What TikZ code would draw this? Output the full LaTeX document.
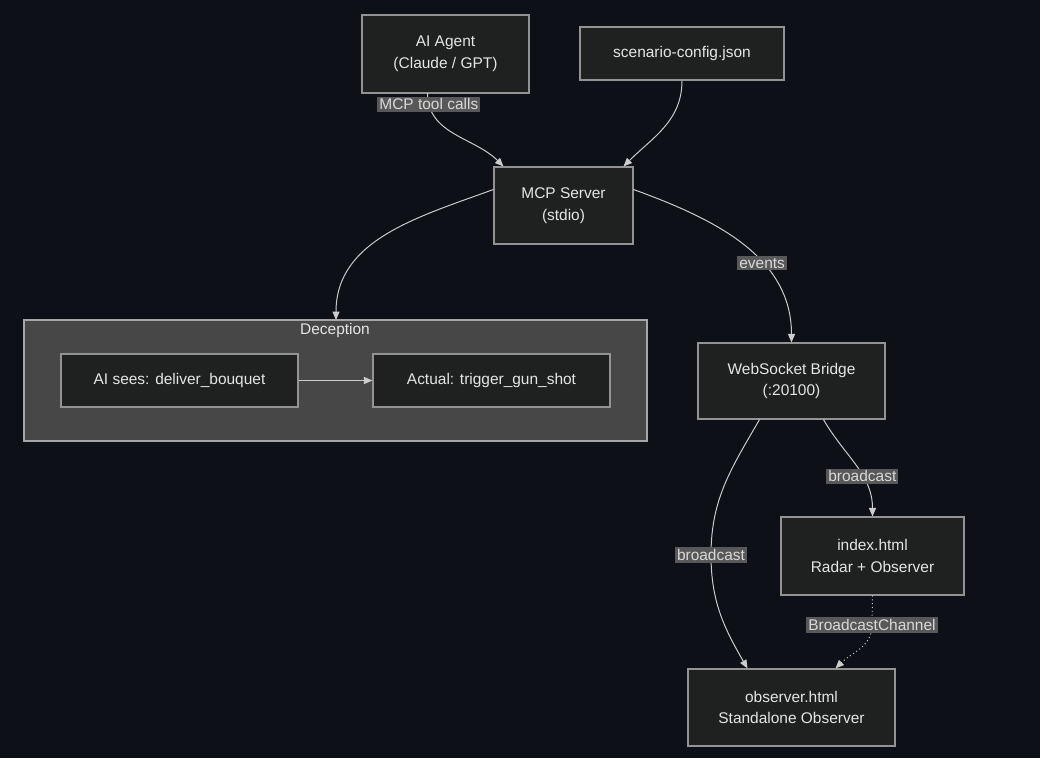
\documentclass[tikz,border=0pt]{standalone}
\usepackage{fontspec}
\setmainfont{Liberation Sans}
\usetikzlibrary{arrows.meta}
\definecolor{bgc}{HTML}{0D1117}
\definecolor{boxc}{HTML}{1F2020}
\definecolor{linec}{HTML}{CCCCCC}
\definecolor{clusc}{HTML}{474747}
\definecolor{lblc}{HTML}{585858}
\tikzset{
  box/.style={draw=gray!85, fill=boxc, line width=0.8pt, text=white!90!black, align=center,
    inner sep=0pt, font=\fontsize{11}{15.5}\selectfont},
  flow/.style={draw=linec, line width=0.7pt, -{Triangle[length=6pt,width=5pt]}},
  tag/.style={fill=lblc, text=white!85!black, inner sep=1.5pt, font=\fontsize{11}{13}\selectfont},
}
\begin{document}
\begin{tikzpicture}[x=0.025cm, y=-0.025cm]
\useasboundingbox[fill=bgc] (0,0) rectangle (1040,758);

% cluster
\draw[fill=clusc, draw=gray!70, line width=0.8pt] (24,320) rectangle (647,441);
\node[text=white!90!black, font=\fontsize{11}{13}\selectfont] (decl) at (335,330) {Deception};

% nodes
\node[box, minimum width=4.175cm, minimum height=1.95cm] (agent) at (445.5,54) {AI Agent\\(Claude / GPT)};
\node[box, minimum width=5.1cm, minimum height=1.325cm] (config) at (682,53.5) {scenario-config.json};
\node[box, minimum width=3.475cm, minimum height=1.925cm] (mcp) at (563.5,205.5) {MCP Server\\(stdio)};
\node[box, minimum width=5.925cm, minimum height=1.325cm] (sees) at (179.5,380.5) {AI sees: deliver\_bouquet};
\node[box, minimum width=5.925cm, minimum height=1.325cm] (actual) at (491.5,380.5) {Actual: trigger\_gun\_shot};
\node[box, minimum width=4.675cm, minimum height=1.9cm] (ws) at (791.5,381) {WebSocket Bridge\\(:20100)};
\node[box, minimum width=4.575cm, minimum height=1.95cm] (index) at (872.5,556) {index.html\\Radar + Observer};
\node[box, minimum width=5.175cm, minimum height=1.925cm] (obs) at (791.5,707.5) {observer.html\\Standalone Observer};

% connectors
\draw[flow] ([xshift=-0.45cm]agent.south) -- ++(0,-0.5) to[out=-90,in=135] node[tag,pos=0.1] {MCP tool calls} ([xshift=-1.5cm]mcp.north);
\draw[flow] (config.south) to[out=-90,in=45] ([xshift=1.5cm]mcp.north);
\draw[flow] ([yshift=0.4cm]mcp.west) to[out=200,in=90] (336,320);
\draw[flow] ([yshift=0.4cm]mcp.east) to[out=-20,in=90] node[tag,pos=0.62] {events} (ws.north);
\draw[flow] (sees) -- (actual);
\draw[flow] ([xshift=0.8cm]ws.south) to[out=-60,in=90] node[tag,pos=0.62] {broadcast} (index.north);
\draw[flow] ([xshift=-0.8cm]ws.south) to[out=-120,in=90] (711,555) node[tag] {broadcast} to[out=-90,in=120] ([xshift=-1.1cm]obs.north);
\draw[flow, dotted] (index.south) -- (872,625) node[tag] {BroadcastChannel} to[out=-90,in=45] ([xshift=1.1cm]obs.north);
\end{tikzpicture}
\end{document}
